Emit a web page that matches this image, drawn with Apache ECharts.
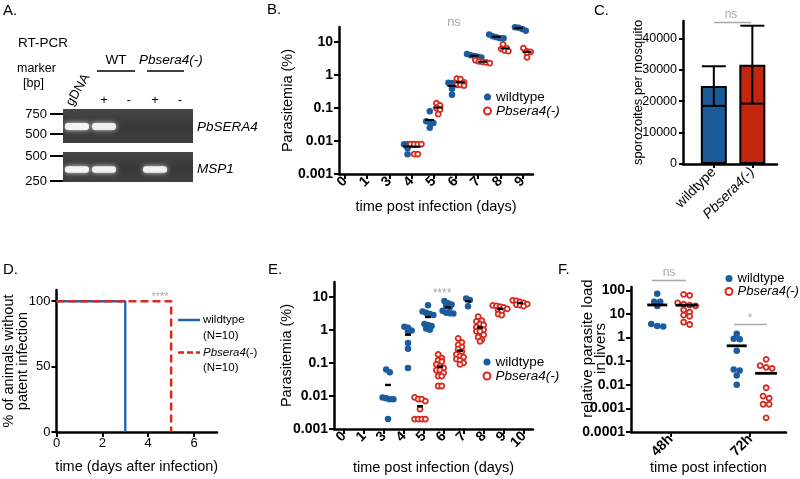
<!DOCTYPE html>
<html><head><meta charset="utf-8">
<script src="https://cdn.jsdelivr.net/npm/echarts@6/dist/echarts.min.js"></script>
<style>html,body{margin:0;padding:0;background:#fff}#c{width:800px;height:479px}</style>
</head><body><div id="c"></div>
<script>
// ================= DATA =================
// Panel A (RT-PCR gel): band presence/intensity per lane
const gelLanes = ['gDNA', 'WT +', 'WT -', 'Pbsera4(-) +', 'Pbsera4(-) -'];
const laneSigns = ['', '+', '-', '+', '-'];
const pbsera4Band = [1, 0.92, 0, 0, 0];
const msp1Band = [1, 0.95, 0, 0.95, 0];
const markerTop = ['750', '500'];
const markerBottom = ['500', '250'];

// Panel B: parasitemia (%) per day, wildtype vs Pbsera4(-)
const daysB = ['0', '1', '3', '4', '5', '6', '7', '8', '9'];
const wtB = [[], [], [], [0.008, 0.008, 0.008, 0.006, 0.004], [0.08, 0.04, 0.037, 0.035, 0.025],
  [0.58, 0.57, 0.55, 0.38, 0.25], [4.3, 4.0, 3.8, 3.6, 3.4], [17, 15, 14, 13, 13], [29, 28, 27, 25, 22]];
const koB = [[], [], [], [0.008, 0.008, 0.008, 0.008, 0.004, 0.004], [0.14, 0.12, 0.1, 0.09, 0.065],
  [0.78, 0.75, 0.6, 0.5, 0.5, 0.48], [2.8, 2.6, 2.5, 2.4, 2.3], [8.5, 6.5, 6.2, 5.5, 5.3], [6.5, 5.2, 5.0, 4.8, 3.4]];
const yTicksB = ['0.001', '0.01', '0.1', '1', '10'];

// Panel C: sporozoites per mosquito (mean, SD)
const groupsC = ['wildtype', 'Pbsera4(-)'];
const meanC = [24800, 31600];
const sdC = [6300, 12400];
const yTicksC = [0, 10000, 20000, 30000, 40000];

// Panel D: % animals without patent infection
const timeWT_D = [0, 3, 3];
const pctWT_D = [100, 100, 0];
const timeKO_D = [0, 5, 5];
const pctKO_D = [100, 100, 0];
const xTicksD = [0, 2, 4, 6];
const yTicksD = [0, 50, 100];

// Panel E: parasitemia (%) per day after sporozoite infection
const daysE = ['0', '1', '3', '4', '5', '6', '7', '8', '9', '10'];
const wtE = [[], [], [0.063, 0.052, 0.009, 0.0085, 0.008, 0.008, 0.002],
  [1.25, 1.15, 0.95, 0.9, 0.4, 0.27, 0.07],
  [5.5, 3.6, 3.3, 3.0, 2.8, 1.5, 1.4, 1.3, 1.1, 1.0],
  [7.4, 6.4, 5.8, 5.4, 4.8, 3.8, 3.3, 3.2, 3.1],
  [8.8, 8.0, 5.2], [], [], []];
const koE = [[], [], [], [],
  [0.009, 0.008, 0.008, 0.007, 0.004, 0.002, 0.002, 0.002, 0.002],
  [0.18, 0.14, 0.12, 0.11, 0.09, 0.08, 0.07, 0.06, 0.06, 0.05, 0.04, 0.04, 0.02, 0.02],
  [0.55, 0.42, 0.35, 0.3, 0.26, 0.22, 0.18, 0.16, 0.15, 0.13, 0.12, 0.1, 0.09],
  [2.5, 1.9, 1.8, 1.5, 1.4, 1.2, 1.1, 1.0, 0.9, 0.9, 0.7, 0.6, 0.5, 0.45],
  [5.5, 5.3, 5.0, 4.8, 4.3, 4.0, 3.8, 3.0, 2.8],
  [7.8, 7.5, 7.0, 6.5, 6.0, 5.8, 5.6, 5.2]];
const yTicksE = ['0.001', '0.01', '0.1', '1', '10'];

// Panel F: relative parasite load in livers
const groupsF = ['48h', '72h'];
const wtF = [[72, 33, 33, 22, 3.8, 3.0, 3.1], [1.45, 0.9, 0.85, 0.28, 0.045, 0.04, 0.025, 0.01]];
const koF = [[68, 62, 30, 26, 24, 22, 15, 12, 9, 8, 4.5, 3.6],
  [0.12, 0.065, 0.055, 0.05, 0.0075, 0.0033, 0.0027, 0.0015, 0.0015, 0.0004]];
const yTicksF = ['0.0001', '0.001', '0.01', '0.1', '1', '10', '100'];

// ================= STYLE / HELPERS =================
const FONT = '"Liberation Sans", Arial, Helvetica, sans-serif';
const BLUE = '#1b5c9f', RED = '#d8291d', GRAY = '#a9a9a9';

function swarm(vals, center, pxX, pxDec, sp, th) {
  const idx = vals.map((v, i) => i).sort((a, b) => vals[b] - vals[a]);
  const out = new Array(vals.length);
  let k = 0;
  while (k < idx.length) {
    const y0 = Math.log10(vals[idx[k]]) * pxDec;
    let j = k;
    while (j < idx.length && y0 - Math.log10(vals[idx[j]]) * pxDec < th) j++;
    const n = j - k;
    for (let m = 0; m < n; m++) out[idx[k + m]] = center + (m - (n - 1) / 2) * sp / pxX;
    k = j;
  }
  return out;
}
function scatterSeries(name, groups, offset, gi, px, isKO) {
  const data = [];
  groups.forEach((vals, i) => {
    if (!vals.length) return;
    const xs = swarm(vals, i + offset, px.x, px.dec, px.sp, px.th);
    vals.forEach((v, k) => data.push([xs[k], v]));
  });
  return {
    type: 'scatter', name, xAxisIndex: gi, yAxisIndex: gi, data, silent: true,
    symbol: 'circle', symbolSize: isKO ? 5 : 6.5,
    itemStyle: isKO ? { color: '#fff', borderColor: RED, borderWidth: 1.8, opacity: 1 } : { color: BLUE, opacity: 1 },
    z: isKO ? 3 : 2
  };
}
function meanSeries(groups, offset, gi, w, h) {
  const data = [];
  groups.forEach((vals, i) => {
    if (vals.length) data.push([i + offset, vals.reduce((a, b) => a + b, 0) / vals.length]);
  });
  return { type: 'scatter', xAxisIndex: gi, yAxisIndex: gi, data, symbol: 'rect', symbolSize: [w, h],
    itemStyle: { color: '#000', opacity: 1 }, z: 6, silent: true };
}
const AL = { show: true, onZero: false, lineStyle: { color: '#000', width: 2.5 } };
function tk(vals, len) { return { show: true, customValues: vals, length: len || 5, lineStyle: { color: '#000', width: 2 } }; }
function logFmt(list) {
  return v => { const t = list.find(s => Math.abs(Math.log10(Number(s)) - Math.log10(v)) < 1e-6); return t || ''; };
}
function idxArr(n) { return Array.from({ length: n }, (_, i) => i); }
const BOLD14 = { fontWeight: 'bold', fontSize: 14, color: '#000', fontFamily: FONT };
const NM = { nameLocation: 'middle', nameMoveOverlap: false };

// ================= AXES =================
const xAxis = [
  Object.assign({ gridIndex: 0, type: 'value', min: -0.27, max: 8.47, axisLine: AL, splitLine: { show: false },
    axisTick: tk(idxArr(daysB.length), 5),
    axisLabel: Object.assign({ customValues: idxArr(daysB.length), formatter: v => daysB[Math.round(v)], rotate: 45, margin: 5 }, BOLD14),
    name: 'time post infection (days)', nameGap: 25,
    nameTextStyle: { fontSize: 14.5, color: '#000', fontFamily: FONT } }, NM),
  Object.assign({ gridIndex: 1, type: 'value', min: -0.8, max: 1.64, axisLine: AL, splitLine: { show: false },
    axisTick: tk([0, 1], 4),
    axisLabel: { customValues: [0, 1], rotate: 45, margin: 6, fontSize: 14, color: '#000', fontFamily: FONT,
      formatter: v => { const s = groupsC[Math.round(v)]; return s.indexOf('Pb') === 0 ? '{i|' + s + '}' : s; },
      rich: { i: { fontStyle: 'italic', fontSize: 14, fontFamily: FONT, color: '#000' } } } }, NM),
  Object.assign({ gridIndex: 2, type: 'value', min: 0, max: 7, axisLine: AL, splitLine: { show: false },
    axisTick: tk(xTicksD, 5),
    axisLabel: { customValues: xTicksD, fontSize: 13, color: '#000', margin: 5, fontFamily: FONT },
    name: 'time (days after infection)', nameGap: 27,
    nameTextStyle: { fontSize: 14.5, color: '#000', fontFamily: FONT } }, NM),
  Object.assign({ gridIndex: 3, type: 'value', min: -0.5, max: 9.45, axisLine: AL, splitLine: { show: false },
    axisTick: tk(idxArr(daysE.length), 5),
    axisLabel: Object.assign({ customValues: idxArr(daysE.length), formatter: v => daysE[Math.round(v)], rotate: 45, margin: 5 }, BOLD14),
    name: 'time post infection (days)', nameGap: 31,
    nameTextStyle: { fontSize: 14.5, color: '#000', fontFamily: FONT } }, NM),
  Object.assign({ gridIndex: 4, type: 'value', min: -0.5, max: 1.45, axisLine: AL, splitLine: { show: false },
    axisTick: tk([0, 1], 5),
    axisLabel: Object.assign({ customValues: [0, 1], formatter: v => groupsF[Math.round(v)], rotate: 45, margin: 5 }, BOLD14),
    name: 'time post infection', nameGap: 28,
    nameTextStyle: { fontSize: 14.5, color: '#000', fontFamily: FONT } }, NM)
];
const yAxis = [
  Object.assign({ gridIndex: 0, type: 'log', logBase: 10, min: 0.001, max: 28.5, axisLine: AL, splitLine: { show: false },
    axisTick: tk(yTicksB.map(Number), 5),
    axisLabel: Object.assign({ customValues: yTicksB.map(Number), formatter: logFmt(yTicksB), margin: 6 }, BOLD14),
    name: 'Parasitemia (%)', nameRotate: 90, nameGap: 44,
    nameTextStyle: { fontSize: 14.5, color: '#000', fontFamily: FONT } }, NM),
  Object.assign({ gridIndex: 1, type: 'value', min: 0, max: 45500, axisLine: AL, splitLine: { show: false },
    axisTick: tk(yTicksC, 4),
    axisLabel: { customValues: yTicksC, formatter: v => String(v), fontSize: 12.5, color: '#000', margin: 6, fontFamily: FONT },
    name: 'sporozoites per mosquito', nameRotate: 90, nameGap: 38,
    nameTextStyle: { fontSize: 13, color: '#000', fontFamily: FONT } }, NM),
  Object.assign({ gridIndex: 2, type: 'value', min: 0, max: 108.6, axisLine: AL, splitLine: { show: false },
    axisTick: tk(yTicksD, 5),
    axisLabel: { customValues: yTicksD, fontSize: 13, color: '#000', margin: 6, fontFamily: FONT },
    name: '% of animals without\npatent infection', nameRotate: 90, nameGap: 27,
    nameTextStyle: { fontSize: 14.5, lineHeight: 14, color: '#000', fontFamily: FONT } }, NM),
  Object.assign({ gridIndex: 3, type: 'log', logBase: 10, min: 0.001, max: 28, axisLine: AL, splitLine: { show: false },
    axisTick: tk(yTicksE.map(Number), 5),
    axisLabel: Object.assign({ customValues: yTicksE.map(Number), formatter: logFmt(yTicksE), margin: 6 }, BOLD14),
    name: 'Parasitemia (%)', nameRotate: 90, nameGap: 40,
    nameTextStyle: { fontSize: 14.5, color: '#000', fontFamily: FONT } }, NM),
  Object.assign({ gridIndex: 4, type: 'log', logBase: 10, min: 0.0001, max: 140, axisLine: AL, splitLine: { show: false },
    axisTick: tk(yTicksF.map(Number), 5),
    axisLabel: Object.assign({ customValues: yTicksF.map(Number), formatter: logFmt(yTicksF), margin: 6 }, BOLD14),
    name: 'relative parasite load\nin livers', nameRotate: 90, nameGap: 24,
    nameTextStyle: { fontSize: 15, lineHeight: 13, color: '#000', fontFamily: FONT, padding: [0, 0, 0, 22] } }, NM)
];

// ================= SERIES =================
const pxB = { x: 22.2, dec: 33, sp: 3.6, th: 4 };
const pxE = { x: 20, dec: 33.3, sp: 3.6, th: 4 };
const pxF = { x: 79.5, dec: 23.6, sp: 6, th: 4 };
const series = [
  scatterSeries('wildtype', wtB, -0.18, 0, pxB, false),
  scatterSeries('Pbsera4(-)', koB, 0.2, 0, pxB, true),
  meanSeries(wtB, -0.18, 0, 9, 2),
  meanSeries(koB, 0.2, 0, 9, 2),
  { type: 'bar', name: 'sporozoites', xAxisIndex: 1, yAxisIndex: 1, barWidth: 26, silent: true,
    data: meanC.map((m, i) => ({ value: [i, m], itemStyle: { color: i === 0 ? '#1d5a98' : '#c3260f' } })),
    itemStyle: { borderColor: '#000', borderWidth: 2 } },
  { type: 'custom', xAxisIndex: 1, yAxisIndex: 1, silent: true, z: 10,
    data: meanC.map((m, i) => [i, m - sdC[i], m + sdC[i]]),
    renderItem: (params, api) => {
      const x = api.value(0);
      const lo = api.coord([x, api.value(1)]), hi = api.coord([x, api.value(2)]);
      const w = 12, st = { stroke: '#000', lineWidth: 2 };
      return { type: 'group', children: [
        { type: 'line', shape: { x1: lo[0], y1: lo[1], x2: hi[0], y2: hi[1] }, style: st },
        { type: 'line', shape: { x1: hi[0] - w, y1: hi[1], x2: hi[0] + w, y2: hi[1] }, style: st },
        { type: 'line', shape: { x1: lo[0] - w, y1: lo[1], x2: lo[0] + w, y2: lo[1] }, style: st }] };
    } },
  { type: 'line', name: 'wildtype (N=10)', xAxisIndex: 2, yAxisIndex: 2, symbol: 'none', z: 3, silent: true,
    data: timeWT_D.map((t, i) => [t, pctWT_D[i]]), lineStyle: { color: '#1f63ad', width: 2.3 } },
  { type: 'line', name: 'Pbsera4(-) (N=10)', xAxisIndex: 2, yAxisIndex: 2, symbol: 'none', z: 4, silent: true,
    data: timeKO_D.map((t, i) => [t, pctKO_D[i]]), lineStyle: { color: RED, width: 2.5, type: [8, 4] } },
  scatterSeries('wildtype', wtE, 0.2, 3, pxE, false),
  scatterSeries('Pbsera4(-)', koE, -0.2, 3, pxE, true),
  meanSeries(wtE, 0.2, 3, 6, 2.4),
  meanSeries(koE, -0.2, 3, 6, 2.4),
  scatterSeries('wildtype', wtF, -0.17, 4, pxF, false),
  scatterSeries('Pbsera4(-)', koF, 0.2, 4, pxF, true),
  meanSeries(wtF, -0.17, 4, 20, 2.8),
  meanSeries(koF, 0.2, 4, 22, 2.8)
];

// ================= LEGENDS =================
function mkLegend(left, top, fs, lh) {
  return { left, top, orient: 'vertical', padding: 0, itemGap: 0, itemWidth: 7, itemHeight: 7, selectedMode: false,
    data: ['wildtype', 'Pbsera4(-)'],
    formatter: n => n.indexOf('Pb') === 0 ? '{i|' + n + '}' : n,
    textStyle: { fontSize: fs, lineHeight: lh, color: '#000', fontFamily: FONT,
      rich: { i: { fontStyle: 'italic', fontSize: fs, lineHeight: lh, fontFamily: FONT, color: '#000' } } } };
}
const legend = [mkLegend(483, 90, 13.5, 12), mkLegend(482.5, 355, 13.5, 14), mkLegend(724.5, 272, 13, 10)];

// ================= GRAPHIC (panel A gel, letters, annotations) =================
const G = [];
function T(text, x, y, o) {
  const st = Object.assign({ text, fill: '#000', fontSize: 13, fontFamily: FONT,
    textAlign: 'left', textVerticalAlign: 'middle', align: 'left', verticalAlign: 'middle' }, o || {});
  if (o && o.textAlign) st.align = o.textAlign;
  if (o && o.textVerticalAlign) st.verticalAlign = o.textVerticalAlign;
  const el = { type: 'text', x, y, silent: true, style: st };
  if (o && o.rot) el.rotation = o.rot;
  G.push(el);
}
function L(x1, y1, x2, y2, stroke, w, dash) {
  G.push({ type: 'line', silent: true, shape: { x1, y1, x2, y2 }, style: { stroke, lineWidth: w, lineDash: dash || null } });
}
// Panel letters
T('A.', 3, 11, { fontSize: 15 });
T('B.', 267, 10, { fontSize: 15 });
T('C.', 594, 10.5, { fontSize: 15 });
T('D.', 3, 270, { fontSize: 15 });
T('E.', 268, 270, { fontSize: 15 });
T('F.', 558, 270, { fontSize: 15 });
// Panel A texts
T('RT-PCR', 18, 43, { fontSize: 13.5 });
T('marker', 17, 69, { fontSize: 12.5 });
T('[bp]', 23, 84, { fontSize: 12.5 });
T('gDNA', 78, 90, { fontSize: 13, textAlign: 'center', rot: Math.PI / 3 });
T('WT', 116, 60, { fontSize: 13.5, textAlign: 'center' });
T('Pbsera4(-)', 139, 60, { fontSize: 13.5, fontStyle: 'italic' });
L(97, 71, 135, 71, '#000', 1.3);
L(147, 71, 184, 71, '#000', 1.3);
const laneX = [77, 104, 129, 155, 180];
laneSigns.forEach((s, i) => { if (s) T(s, laneX[i], 100, { fontSize: 13, textAlign: 'center' }); });
const gelFill = { type: 'linear', x: 0, y: 0, x2: 0, y2: 1,
  colorStops: [{ offset: 0, color: '#474747' }, { offset: 0.5, color: '#383838' }, { offset: 1, color: '#3f3f3f' }] };
G.push({ type: 'rect', silent: true, shape: { x: 63, y: 109, width: 130, height: 34 }, style: { fill: gelFill } });
G.push({ type: 'rect', silent: true, shape: { x: 63, y: 152, width: 130, height: 30 }, style: { fill: gelFill } });
function bands(arr, yc, h) {
  arr.forEach((a, i) => {
    if (!a) return;
    G.push({ type: 'rect', silent: true, shape: { x: laneX[i] - 12, y: yc - h / 2, width: 24, height: h, r: 3 },
      style: { fill: '#f4f4f4', opacity: a, shadowBlur: 5, shadowColor: 'rgba(255,255,255,0.85)' } });
  });
}
bands(pbsera4Band, 126.5, 7);
bands(msp1Band, 169.5, 6.5);
[[markerTop[0], 114], [markerTop[1], 134], [markerBottom[0], 156], [markerBottom[1], 181]].forEach(([t, y]) => {
  L(50, y, 63, y, '#000', 2);
  T(t, 47, y, { fontSize: 13, textAlign: 'right' });
});
T('PbSERA4', 197, 127, { fontSize: 13.5, fontStyle: 'italic' });
T('MSP1', 197, 169, { fontSize: 13.5, fontStyle: 'italic' });
// Stats annotations
T('ns', 454, 22, { fontSize: 13, fill: GRAY, textAlign: 'center' });
T('ns', 731, 15, { fontSize: 12, fill: GRAY, textAlign: 'center' });
L(714, 22.5, 751, 22.5, GRAY, 1.5);
T('****', 160, 297, { fontSize: 11, fill: GRAY, textAlign: 'center' });
T('****', 442, 294, { fontSize: 12, fill: GRAY, textAlign: 'center' });
T('ns', 669, 273, { fontSize: 12, fill: GRAY, textAlign: 'center' });
L(652, 280.5, 686, 280.5, GRAY, 1.5);
T('*', 750, 319, { fontSize: 12, fill: GRAY, textAlign: 'center' });
L(734, 324.5, 767, 324.5, GRAY, 1.5);
// Panel D legend
L(178, 320, 200, 320, '#1f63ad', 2.5);
T('wildtype', 203, 320, { fontSize: 11.5 });
T('(N=10)', 203, 336, { fontSize: 11.5 });
L(178, 352.5, 200, 352.5, RED, 2.5, [6, 3]);
T('{i|Pbsera4}(-)', 203, 352.5, { fontSize: 11.5, rich: { i: { fontStyle: 'italic', fontSize: 11.5, fontFamily: FONT } } });
T('(N=10)', 203, 368, { fontSize: 11.5 });

// ================= OPTION =================
const option = {
  animation: false,
  backgroundColor: '#fff',
  textStyle: { fontFamily: FONT, color: '#000' },
  grid: [
    { left: 339, top: 27, width: 194, height: 147 },
    { left: 683, top: 21, width: 94, height: 143 },
    { left: 56, top: 290, width: 161, height: 142 },
    { left: 334, top: 282, width: 199, height: 147 },
    { left: 631, top: 287, width: 155, height: 145 }
  ],
  xAxis, yAxis, legend, series,
  graphic: { elements: G }
};
const chart = echarts.init(document.getElementById('c'), null, { renderer: 'canvas' });
chart.setOption(option);
</script></body></html>
